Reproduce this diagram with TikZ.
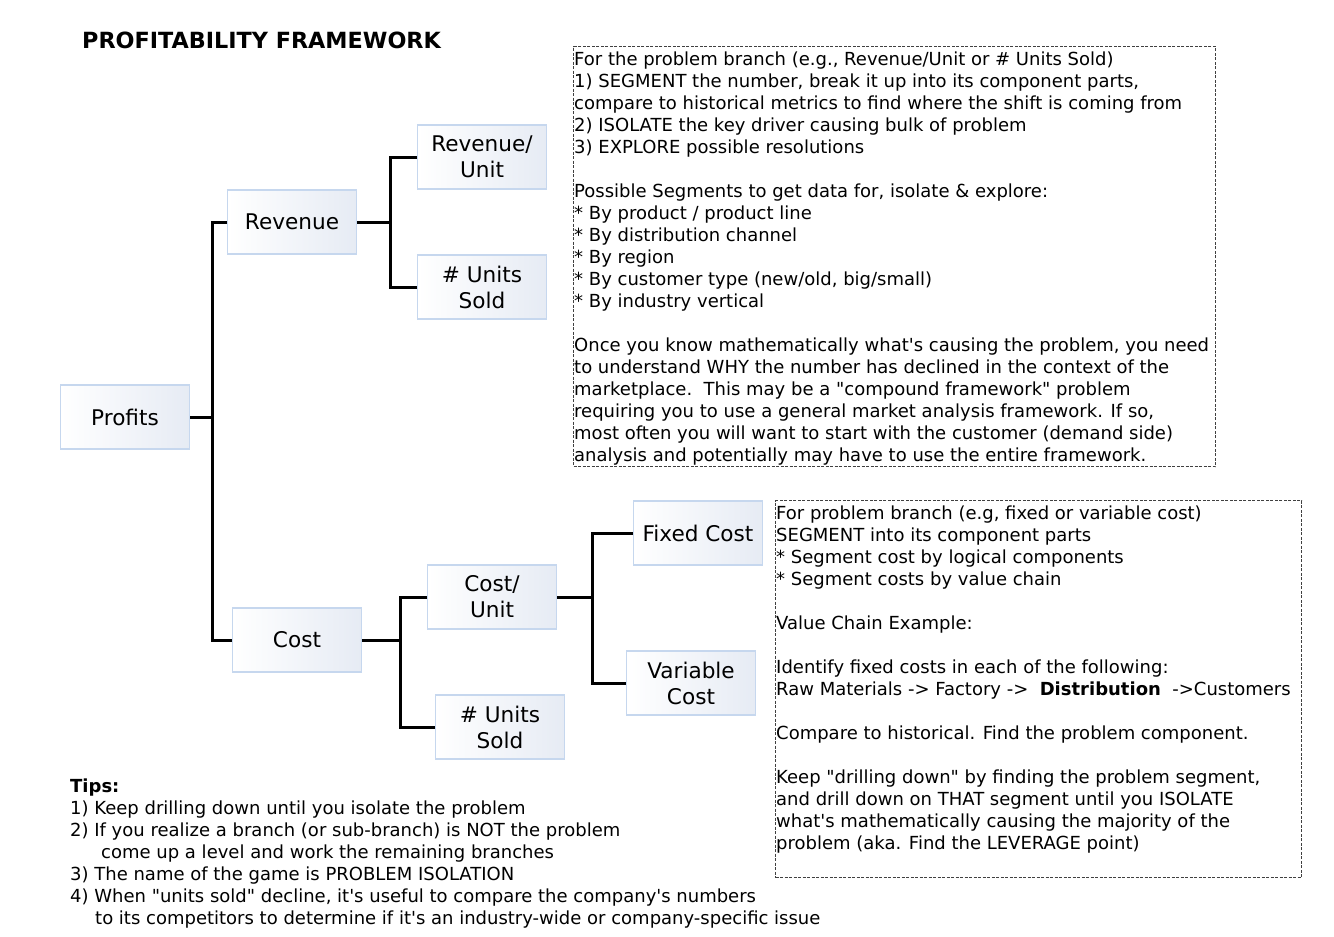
\documentclass[tikz,border=0pt]{standalone}
\usepackage{fontspec}
\setmainfont{DejaVu Sans}[Ligatures=TeXOff]
\usetikzlibrary{positioning}
\definecolor{boxedge}{HTML}{C6D7EE}
\definecolor{boxshade}{HTML}{E6EBF4}
\definecolor{noteedge}{HTML}{404040}
\tikzset{
  branchbox/.style={draw=boxedge, line width=1.2pt, left color=white, right color=boxshade, align=center, font=\fontsize{21.6}{26}\selectfont, minimum width=129pt, minimum height=64pt, inner sep=0pt},
  branch/.style={line width=3pt, draw=black},
  noteframe/.style={draw=noteedge, line width=1pt, dash pattern=on 3pt off 1.5pt, anchor=north west, inner sep=0pt},
  notetext/.style={anchor=north west, align=left, inner sep=0pt, font=\fontsize{18}{22}\selectfont},
  heading/.style={anchor=base west, inner sep=0pt, font=\bfseries\fontsize{22.3}{26}\selectfont}
}

\begin{document}
\begin{tikzpicture}[x=1pt,y=-1pt]
\useasboundingbox (0,0) rectangle (1334,937);
\node[heading] (title) at (82,48.5) {PROFITABILITY FRAMEWORK};
% tree
\node[branchbox] (profits) at (125,417) {Profits};
\node[branchbox] (revenue) at (292,222) {Revenue};
\node[branchbox] (revunit) at (482,157) {Revenue/\\Unit};
\node[branchbox] (revunits) at (482,287) {\# Units\\Sold};
\node[branchbox] (cost) at (297,640) {Cost};
\node[branchbox] (costunit) at (492,597) {Cost/\\Unit};
\node[branchbox] (costunits) at (500,727) {\# Units\\Sold};
\node[branchbox] (fixedcost) at (698,533) {Fixed Cost};
\node[branchbox] (varcost) at (691,683) {Variable\\Cost};
\draw[branch] (profits.east) -- ++(22,0) |- (revenue.west);
\draw[branch] (profits.east) -- ++(22,0) |- (cost.west);
\draw[branch] (revenue.east) -- ++(33,0) |- (revunit.west);
\draw[branch] (revenue.east) -- ++(33,0) |- (revunits.west);
\draw[branch] (cost.east) -- ++(38,0) |- (costunit.west);
\draw[branch] (cost.east) -- ++(38,0) |- (costunits.west);
\draw[branch] (costunit.east) -- ++(35,0) |- (fixedcost.west);
\draw[branch] (costunit.east) -- ++(35,0) |- (varcost.west);
% notes
\node[noteframe, minimum width=642pt, minimum height=420pt] (revframe) at (573,46) {};
\node[notetext] (revnote) at (574,52) {For the problem branch (e.g., Revenue/Unit or \# Units Sold)\\
1) SEGMENT the number, break it up into its component parts,\\
compare to historical metrics to find where the shift is coming from\\
2) ISOLATE the key driver causing bulk of problem\\
3) EXPLORE possible resolutions\\
~\\
Possible Segments to get data for, isolate \& explore:\\
* By product / product line\\
* By distribution channel\\
* By region\\
* By customer type (new/old, big/small)\\
* By industry vertical\\
~\\
Once you know mathematically what's causing the problem, you need\\
to understand WHY the number has declined in the context of the\\
marketplace.\ \ This may be a "compound framework" problem\\
requiring you to use a general market analysis framework. If so,\\
most often you will want to start with the customer (demand side)\\
analysis and potentially may have to use the entire framework.};
\node[noteframe, minimum width=526pt, minimum height=377pt] (costframe) at (775,500) {};
\node[notetext] (costnote) at (776,506) {For problem branch (e.g, fixed or variable cost)\\
SEGMENT into its component parts\\
* Segment cost by logical components\\
* Segment costs by value chain\\
~\\
Value Chain Example:\\
~\\
Identify fixed costs in each of the following:\\
Raw Materials -> Factory -> \ \textbf{Distribution}\ \ ->Customers\\
~\\
Compare to historical. Find the problem component.\\
~\\
Keep "drilling down" by finding the problem segment,\\
and drill down on THAT segment until you ISOLATE\\
what's mathematically causing the majority of the\\
problem (aka. Find the LEVERAGE point)};
% tips
\node[notetext] (tips) at (70,779) {\textbf{Tips:}\\
1) Keep drilling down until you isolate the problem\\
2) If you realize a branch (or sub-branch) is NOT the problem\\
\hspace*{31pt}come up a level and work the remaining branches\\
3) The name of the game is PROBLEM ISOLATION\\
4) When "units sold" decline, it's useful to compare the company's numbers\\
\hspace*{25pt}to its competitors to determine if it's an industry-wide or company-specific issue};
\end{tikzpicture}
\end{document}
